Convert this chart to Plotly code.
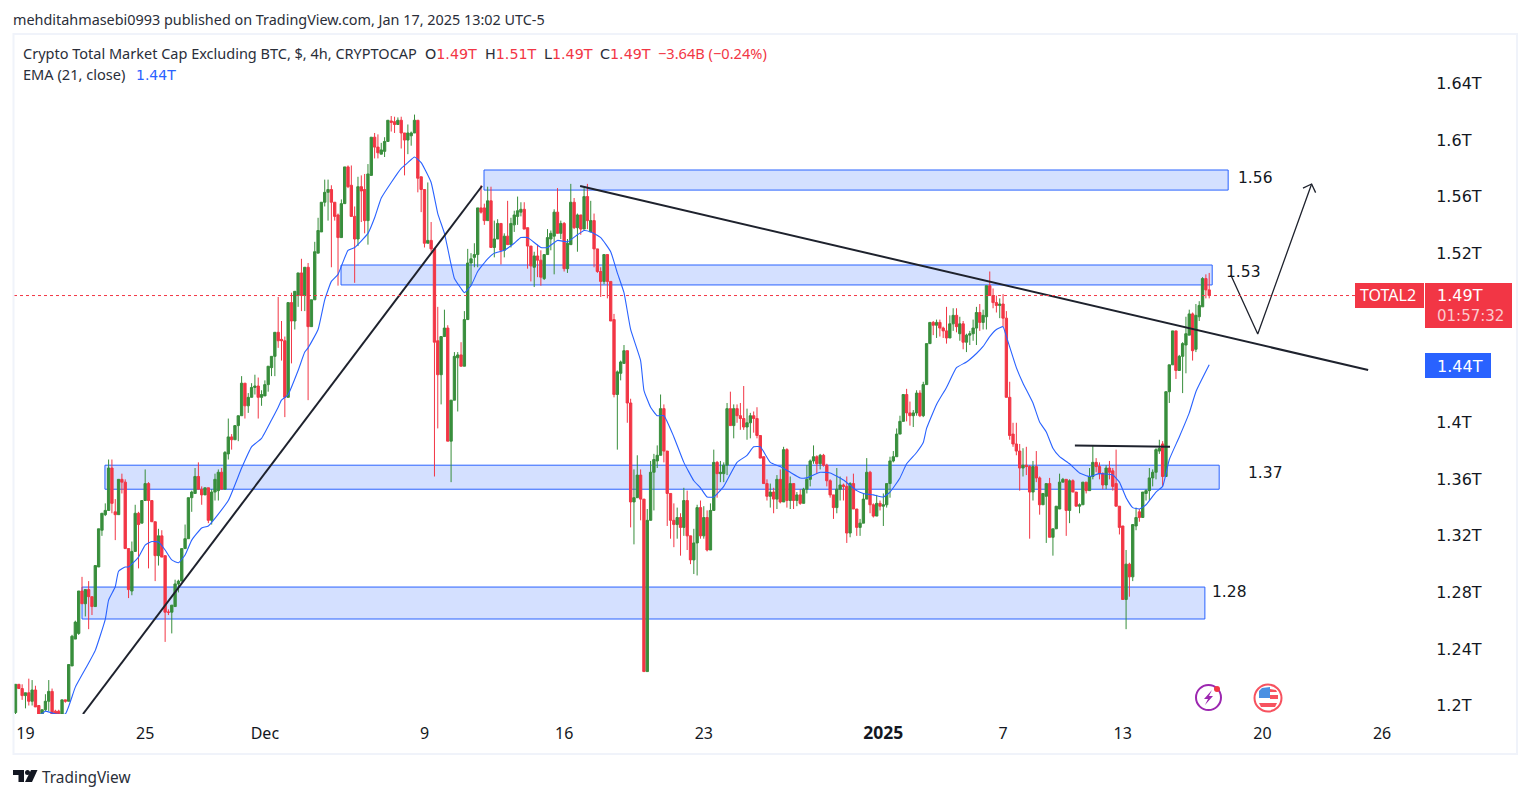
import plotly.graph_objects as go

# --- values in billions of USD, one entry per 4h candle ---
opens = [
1195,1215,1212,1207,1209,1203,1211,1200,1194,1197,
1203,1210,1196,1196,1194,1204,1203,1228,1247,1251,
1281,1272,1282,1277,1270,1298,1324,1335,1338,1368,
1337,1335,1360,1358,1311,1281,1309,1336,1329,1345,
1357,1345,1330,1306,1320,1306,1266,1266,1270,1286,
1288,1311,1318,1347,1350,1362,1353,1349,1354,1331,
1351,1352,1365,1353,1378,1390,1388,1398,1405,1428,
1412,1418,1425,1426,1418,1419,1427,1439,1447,1464,
1459,1458,1418,1485,1472,1490,1506,1490,1510,1468,
1487,1520,1535,1556,1563,1565,1556,1547,1531,1555,
1581,1568,1546,1530,1567,1565,1543,1575,1602,1595,
1590,1592,1599,1613.5,1613,1611,1614,1605,1600,1603,
1605,1614,1574,1565,1527,1529,1523,1458,1434,1461,
1467,1387,1416,1446,1448,1440,1473,1513,1517,1519,
1552,1552,1543,1557,1524,1530,1541,1522,1532,1526,
1540,1546,1549,1551,1538,1525,1510,1518,1515,1502,
1519,1530,1532,1549,1534,1541,1509,1526,1556,1538,
1547,1537,1560,1535,1543,1523,1507,1500,1519,1500,
1473,1420,1435,1442,1451,1414,1344,1347,1363,1346,
1224,1331,1365,1373,1377,1410,1380,1350,1331,1328,
1333,1326,1345,1320,1303,1315,1340,1320,1333,1310,
1338,1372,1364,1364,1370,1410,1398,1410,1405,1403,
1397,1400,1405,1403,1391,1376,1357,1348,1351,1346,
1360,1344,1381,1345,1357,1345,1349,1343,1353,1360,
1373,1376,1371,1377,1370,1359,1349,1340,1353,1356,
1355,1322,1357,1339,1326,1329,1346,1365,1342,1334,
1343,1341,1342,1357,1373,1376,1392,1401,1420,1407,
1405,1407,1421,1405,1427,1456,1471,1469,1471,1467,
1465,1460,1470,1476,1463,1470,1457,1462,1463,1467,
1478,1471,1475,1497,1490,1485,1483,1484,1474,1418,
1392,1385,1380,1368,1370,1369,1351,1369,1361,1342,
1348,1357,1319,1325,1339,1358,1360,1338,1359,1351,
1341,1342,1358,1352,1362,1372,1369,1364,1356,1368,
1366,1357,1341,1327,1275,1300,1291,1327,1337,1333,
1350,1352,1361,1365,1380,1385,1362,1422,1441,1465,
1437,1447,1455,1462,1477,1452,1475,1482,1502,1494]
highs = [
1215,1215,1215,1209,1219,1218,1214,1200,1197,1208,
1218,1212,1197,1197,1204,1204,1229,1250,1260,1281,
1291,1282,1288,1277,1299,1325,1336,1343,1374,1374,
1346,1360,1364,1360,1311,1316,1342,1337,1345,1367,
1358,1345,1330,1325,1324,1306,1268,1271,1289,1289,
1311,1328,1347,1352,1368,1372,1355,1354,1354,1353,
1364,1367,1368,1380,1403,1392,1398,1405,1433,1428,
1421,1428,1434,1432,1423,1430,1440,1447,1464,1489,
1472,1461,1485,1492,1493,1506,1516,1510,1513,1487,
1528,1545,1556,1572,1572,1568,1556,1548,1558,1581,
1582,1582,1553,1574,1575,1576,1583,1602,1605,1604,
1598,1602,1614,1617,1616.5,1616,1616.5,1605,1611,1606,
1618,1614,1574,1565,1570,1542,1523,1482,1461,1480,
1469,1416,1450,1450,1457,1479,1523,1520,1527,1552,
1568,1555,1567,1567,1543,1544,1541,1534,1557,1545,
1550,1560,1556,1556,1538,1525,1521,1526,1522,1519,
1537,1536,1551,1566,1543,1542,1530,1569,1559,1548,
1547,1566,1569,1557,1548,1523,1510,1519,1519,1500,
1477,1437,1444,1455,1451,1417,1367,1377,1367,1346,
1339,1373,1378,1384,1420,1413,1380,1350,1343,1340,
1336,1354,1352,1320,1325,1342,1345,1341,1338,1343,
1381,1373,1373,1372,1414,1422,1413,1413,1414,1426,
1410,1407,1408,1411,1391,1376,1360,1357,1354,1363,
1367,1383,1382,1362,1357,1351,1353,1354,1370,1374,
1384,1377,1378,1378,1371,1360,1349,1368,1362,1357,
1362,1358,1364,1339,1332,1350,1375,1366,1343,1349,
1345,1350,1357,1376,1380,1396,1405,1420,1424,1415,
1409,1423,1423,1429,1456,1471,1472,1473,1473,1468,
1482,1476,1481,1481,1475,1472,1463,1465,1473,1482,
1484,1480,1497,1507,1495,1490,1488,1491,1479,1429,
1400,1400,1385,1382,1383,1370,1373,1380,1362,1350,
1357,1361,1325,1341,1364,1361,1360,1360,1360,1351,
1343,1358,1358,1368,1384,1375,1372,1365,1370,1373,
1368,1381,1341,1327,1310,1301,1328,1340,1339,1351,
1353,1368,1367,1382,1388,1387,1422,1441,1465,1465,
1448,1457,1475,1480,1478,1484,1486,1503,1505,1506]
lows = [
1194,1212,1204,1198,1200,1200,1199,1194,1192,1196,
1196,1190,1190,1190,1192,1202,1203,1228,1247,1250,
1272,1263,1254,1264,1270,1298,1320,1334,1338,1336,
1317,1335,1350,1311,1276,1278,1309,1297,1329,1345,
1297,1330,1288,1299,1305,1245,1264,1251,1270,1280,
1288,1311,1318,1337,1350,1353,1342,1349,1329,1328,
1345,1345,1353,1353,1374,1381,1388,1387,1405,1403,
1407,1418,1420,1403,1412,1419,1422,1433,1433,1453,
1444,1404,1418,1442,1466,1482,1479,1479,1416,1468,
1487,1520,1535,1553,1543,1510,1543,1497,1531,1555,
1566,1546,1499,1525,1542,1534,1526,1575,1587,1587,
1590,1588,1599,1606,1605,1611,1594,1575,1590,1596,
1605,1563,1549,1524,1527,1521,1362,1396,1413,1461,
1387,1358,1416,1408,1440,1440,1473,1497,1510,1510,
1548,1540,1543,1524,1517,1530,1512,1517,1526,1524,
1535,1540,1546,1537,1509,1500,1496,1503,1497,1501,
1519,1522,1505,1534,1530,1507,1506,1526,1537,1521,
1533,1537,1537,1535,1510,1506,1489,1498,1488,1472,
1418,1381,1430,1442,1400,1326,1314,1347,1331,1224,
1224,1331,1338,1368,1377,1372,1327,1318,1312,1318,
1306,1320,1310,1300,1293,1292,1318,1318,1309,1310,
1338,1347,1358,1358,1363,1398,1389,1400,1395,1395,
1388,1389,1393,1389,1375,1357,1345,1340,1336,1339,
1343,1344,1340,1339,1339,1341,1342,1343,1350,1355,
1371,1364,1367,1369,1355,1347,1332,1336,1345,1345,
1315,1319,1339,1320,1320,1329,1346,1336,1333,1334,
1338,1327,1340,1347,1372,1376,1392,1401,1401,1398,
1397,1405,1404,1404,1427,1456,1462,1460,1461,1460,
1456,1460,1465,1464,1458,1452,1450,1455,1458,1455,
1465,1466,1466,1490,1481,1478,1474,1468,1418,1388,
1383,1377,1352,1362,1363,1318,1345,1358,1335,1342,
1315,1319,1306,1325,1339,1358,1320,1329,1351,1341,
1336,1342,1350,1352,1360,1365,1360,1353,1353,1360,
1352,1341,1321,1275,1254,1277,1288,1324,1330,1333,
1345,1345,1355,1360,1378,1355,1362,1414,1441,1431,
1437,1421,1435,1462,1444,1450,1472,1482,1488,1488]
closes = [
1215,1212,1207,1209,1203,1211,1199,1194,1197,1203,
1210,1194,1192,1192,1204,1203,1229,1249,1259,1281,
1272,1282,1277,1270,1299,1325,1336,1338,1368,1343,
1335,1360,1358,1311,1282,1309,1336,1328,1345,1357,
1345,1330,1306,1320,1305,1266,1266,1271,1286,1288,
1311,1318,1347,1351,1362,1353,1349,1354,1331,1351,
1360,1365,1353,1379,1390,1388,1398,1405,1428,1412,
1418,1425,1426,1418,1420,1427,1440,1447,1464,1458,
1458,1418,1485,1472,1493,1506,1490,1510,1468,1487,
1521,1536,1556,1563,1565,1556,1546,1531,1555,1581,
1567,1546,1530,1567,1564,1543,1576,1602,1595,1591,
1593,1599,1614,1612.5,1611,1614,1605,1600,1605,1605,
1614,1573,1565,1527,1529,1523,1457,1434,1461,1467,
1387,1416,1447,1448,1440,1473,1513,1516,1519,1552,
1549,1543,1557,1524,1530,1541,1522,1532,1526,1541,
1547,1550,1551,1537,1525,1511,1518,1515,1503,1519,
1531,1534,1549,1534,1541,1509,1527,1556,1538,1547,
1537,1560,1543,1543,1523,1507,1500,1519,1500,1472,
1420,1436,1443,1451,1414,1344,1347,1363,1346,1224,
1331,1365,1374,1377,1410,1380,1350,1331,1328,1333,
1326,1345,1320,1303,1315,1340,1320,1333,1310,1338,
1372,1364,1365,1370,1410,1398,1410,1405,1403,1397,
1400,1405,1403,1391,1375,1357,1348,1351,1346,1360,
1344,1381,1345,1357,1345,1349,1343,1353,1360,1373,
1376,1371,1377,1370,1359,1349,1340,1353,1356,1355,
1322,1357,1339,1326,1329,1346,1365,1342,1334,1343,
1341,1342,1357,1373,1376,1392,1401,1420,1407,1405,
1407,1421,1405,1427,1456,1471,1469,1471,1467,1465,
1460,1470,1476,1468,1470,1457,1462,1463,1467,1478,
1471,1476,1497,1490,1485,1483,1484,1474,1418,1391,
1385,1380,1368,1370,1369,1351,1369,1361,1342,1350,
1357,1319,1325,1341,1358,1360,1338,1359,1351,1341,
1342,1358,1352,1362,1372,1369,1364,1356,1368,1365,
1355,1341,1326,1275,1300,1291,1328,1333,1333,1351,
1352,1361,1365,1381,1382,1362,1422,1441,1465,1437,
1447,1456,1463,1477,1451,1476,1483,1502,1494,1490]

ema_index = [7,9,12,15,18,22,24,27,28,30,31,33,34,37,39,41,43,45,47,49,51,53,56,58,
64,68,71,74,77,79,80,82,85,87,88,91,93,95,97,100,102,106,108,110,113,116,118,120,122,125,127,129,
131,132,134,135,137,139,142,144,147,150,152,154,158,160,163,166,169,171,173,176,179,181,183,185,
188,189,191,193,195,198,201,204,206,208,210,213,217,220,222,224,227,230,233,236,238,242,245,249,
253,255,258,261,263,266,268,271,273,274,277,280,283,286,289,291,293,295,297,298,301,303,306,308,
310,312,314,317,320,323,326,330,332,334,336,338,340,343,345,347,350,353,355,359]
ema_values = [1192.6,1196,1194,1194,1213,1230,1239,1261,1274.6,1284,1295,1298,1298,1305,1313.5,1316,1315.6,1310,1303,1301,1306.5,1317,1325.6,1327,
1345,1368,1383,1389,1402,1411,1416,1420,1437,1450,1453,1466,1487,1500,1505,1522,1524,1534,1545,1559,1570,1580,1584,1588,1584,1570,1548,1534,
1512,1502,1495,1492,1497,1507,1516,1520,1522,1527,1531,1531,1524,1524,1529,1528,1533,1536,1535,1531,1521,1506,1492,1466,
1444,1423,1411,1405,1405,1390,1372,1359,1354,1347.5,1347.5,1355,1372,1377,1383,1383,1372,1369,1365,1361,1361,1365,1364.5,1359.5,
1352,1350,1349,1347.5,1351,1361,1371,1379,1386,1396,1413,1425,1439,1443,1449,1454,1461,1466,1468,1461,1439,1428,1414,1400.5,
1393.5,1382,1376,1371,1364.5,1362,1364,1363,1358,1347,1340,1339,1342,1351,1355,1374,1390,1407,1422,1441]

tick_index = [3,39,75,123,165,207,261,297,333,375,411]
tick_labels = ["19","25","Dec","9","16","23",'<span style="font-size:17.5px"><b>2025</b></span>',"7","13","20","26"]
price_ticks = [1200,1240,1280,1320,1360,1400,1520,1560,1600,1640]
price_labels = ["1.2T","1.24T","1.28T","1.32T","1.36T","1.4T","1.52T","1.56T","1.6T","1.64T"]

# zones: first candle, last candle, upper price, lower price
zone_left = [140.9, 97.9, 26.9, 20.0]
zone_right = [364.7, 359.9, 362.0, 357.7]
zone_top = [1578.8, 1511.6, 1370.0, 1283.8]
zone_bottom = [1564.6, 1497.5, 1353.0, 1261.2]
zone_labels = ["1.56", "1.53", "1.37", "1.28"]

rise_x, rise_y = [20.3, 140.3], [1194, 1567.5]
fall_x, fall_y = [169.8, 406.8], [1567.5, 1437.3]
level_x, level_y = [318.6, 347.2], [1383.9, 1383.0]
path_x, path_y = [365.5, 373.6, 389.8], [1504.5, 1462.8, 1568.9]
head_x, head_y = [387.2, 389.8, 391.0], [1566.0, 1568.9, 1562.8]

last_price = 1490

GREEN, RED, BLUE, INK = "#388e3c", "#f23645", "#2962ff", "#131722"
FONT = "Noto Sans"
WIDE = "DejaVu Sans"
L, R, T, B = 14, 1427, 35, 714


def fx(px):
    return (px - L) / (R - L)


def fy(py):
    return (B - py) / (B - T)


def note(px, py, text, size=15, color=INK, anchor="left", family=FONT):
    return dict(xref="paper", yref="paper", x=fx(px), y=fy(py - 1), text=text, showarrow=False,
                xanchor=anchor, yanchor="middle", align="left", borderpad=0, borderwidth=0,
                font=dict(family=family, size=size, color=color))


def box(x0, y0, x1, y1, fill, line=None, kind="rect", width=0):
    return dict(type=kind, xref="paper", yref="paper", x0=fx(x0), x1=fx(x1), y0=fy(y0), y1=fy(y1),
                fillcolor=fill, line=dict(color=line or fill, width=width), layer="above")


def poly(points, fill, line=None, width=0):
    d = "M" + " L".join(f"{fx(a):.5f},{fy(b):.5f}" for a, b in points) + " Z"
    return dict(type="path", xref="paper", yref="paper", path=d, fillcolor=fill,
                line=dict(color=line or fill, width=width), layer="above")


fig = go.Figure()
fig.add_trace(go.Candlestick(
    x=list(range(len(closes))), open=opens, high=highs, low=lows, close=closes,
    increasing=dict(line=dict(color=GREEN, width=1), fillcolor=GREEN),
    decreasing=dict(line=dict(color=RED, width=1), fillcolor=RED),
    whiskerwidth=0, hoverinfo="skip", showlegend=False))
fig.add_trace(go.Scatter(x=ema_index, y=ema_values, mode="lines", showlegend=False, hoverinfo="skip",
                         line=dict(color=BLUE, width=1.1, shape="spline", smoothing=0.4)))
for xs, ys, w in [(rise_x, rise_y, 2), (fall_x, fall_y, 2), (level_x, level_y, 2),
                  (path_x, path_y, 1.3), (head_x, head_y, 1.3)]:
    fig.add_trace(go.Scatter(x=xs, y=ys, mode="lines", showlegend=False, hoverinfo="skip",
                             line=dict(color="#1e222d", width=w)))

shapes = []
for a, b, c, d in zip(zone_left, zone_right, zone_top, zone_bottom):
    shapes.append(dict(type="rect", xref="x", yref="y", x0=a, x1=b, y0=d, y1=c, layer="below",
                       fillcolor="rgba(41,98,255,0.2)", line=dict(color=BLUE, width=1)))
shapes.append(dict(type="line", xref="paper", yref="y", x0=0, x1=fx(1356), y0=last_price, y1=last_price,
                   line=dict(color=RED, width=1, dash="dot"), layer="above"))
# frame
shapes += [box(13, 33, 1518, 35, "#f0f3fa"), box(13, 753, 1518, 755, "#f0f3fa"),
           box(12.5, 33, 14.5, 755, "#f0f3fa"), box(1516, 33, 1518, 755, "#f0f3fa")]
# price tags
shapes += [box(1355, 283, 1424, 308, RED), box(1425, 283, 1512, 328, RED), box(1425, 353, 1491, 378, BLUE)]
# lightning badge
shapes += [box(1196, 685, 1221, 710, "white", "#9c27b0", "circle", 2),
           poly([(1212, 690), (1204, 699), (1208, 699), (1205, 705), (1213, 696), (1209, 696)], "#9c27b0"),
           box(1214, 686, 1220, 692, RED, None, "circle")]
# flag badge
shapes += [box(1254.5, 684.5, 1281.5, 711.5, "white", "#f7525f", "circle", 2),
           poly([(1259, 691), (1262, 688), (1270, 687), (1270, 698), (1259, 698)], "#4a90e2"),
           poly([(1270, 689), (1276, 690), (1277, 692), (1270, 692)], "#f7525f"),
           poly([(1270, 695), (1278, 695), (1278, 699), (1270, 699)], "#f7525f"),
           poly([(1259, 703), (1277, 703), (1275, 707), (1261, 707)], "#f7525f")]
# TradingView mark
shapes += [poly([(13, 770), (24, 770), (24, 782), (18.5, 782), (18.5, 775), (13, 775)], INK),
           box(25, 770, 30, 775, INK, None, "circle"),
           poly([(31, 770), (37.5, 770), (32, 782), (25, 782)], INK)]

annotations = [
    note(13, 20, "mehditahmasebi0993 published on TradingView.com, Jan 17, 2025 13:02 UTC-5", 14.4, "#2a2e39"),
    note(23, 54, "Crypto Total Market Cap Excluding BTC, $, 4h, CRYPTOCAP", 14.5, "#2a2e39"),
    note(425, 55, f'O<span style="color:{RED}">1.49T</span>', 14.3, "#2a2e39", family=WIDE),
    note(485, 55, f'H<span style="color:{RED}">1.51T</span>', 14.3, "#2a2e39", family=WIDE),
    note(544, 55, f'L<span style="color:{RED}">1.49T</span>', 14.3, "#2a2e39", family=WIDE),
    note(600, 55, f'C<span style="color:{RED}">1.49T</span>', 14.3, "#2a2e39", family=WIDE),
    note(658, 54, "−3.64B (−0.24%)", 14.6, RED),
    note(23, 75, "EMA (21, close)", 14.6, "#2a2e39"),
    note(136, 76, "1.44T", 14, BLUE, family=WIDE),
    note(1238, 179, zone_labels[0], 15.5, INK, family=WIDE),
    note(1226, 273, zone_labels[1], 15.5, INK, family=WIDE),
    note(1248, 474, zone_labels[2], 15.5, INK, family=WIDE),
    note(1212, 593, zone_labels[3], 15.5, INK, family=WIDE),
    note(1360, 296, "TOTAL2", 16, "white"),
    note(1437, 296, "1.49T", 16, "white", family=WIDE),
    note(1437, 317, "01:57:32", 15, "#fbc9cd", family=WIDE),
    note(1437, 367, "1.44T", 16, "white", family=WIDE),
    note(42, 778, "TradingView", 15.4, "#2a2e39"),
]

fig.update_layout(
    width=1529, height=798, autosize=False, margin=dict(l=L, r=1529 - R, t=T, b=798 - B, pad=0),
    paper_bgcolor="white", plot_bgcolor="white", showlegend=False, boxgap=0, hovermode=False,
    shapes=shapes, annotations=annotations, font=dict(family=FONT, color=INK),
    xaxis=dict(range=[-0.45, 424.5], rangeslider=dict(visible=False), showgrid=False, zeroline=False,
               showline=False, tickmode="array", tickvals=tick_index, ticktext=tick_labels,
               ticks="outside", ticklen=5, tickcolor="rgba(0,0,0,0)", tickangle=0,
               tickfont=dict(family=FONT, size=16, color=INK)),
    yaxis=dict(range=[1194, 1674.3], side="right", showgrid=False, zeroline=False, showline=False,
               tickmode="array", tickvals=price_ticks, ticktext=price_labels, ticks="outside",
               ticklen=5, tickcolor="rgba(0,0,0,0)", tickfont=dict(family=WIDE, size=16, color=INK)),
)

fig.write_html("out.html", config=dict(displayModeBar=False),
               post_script="document.body.style.margin='0';")
